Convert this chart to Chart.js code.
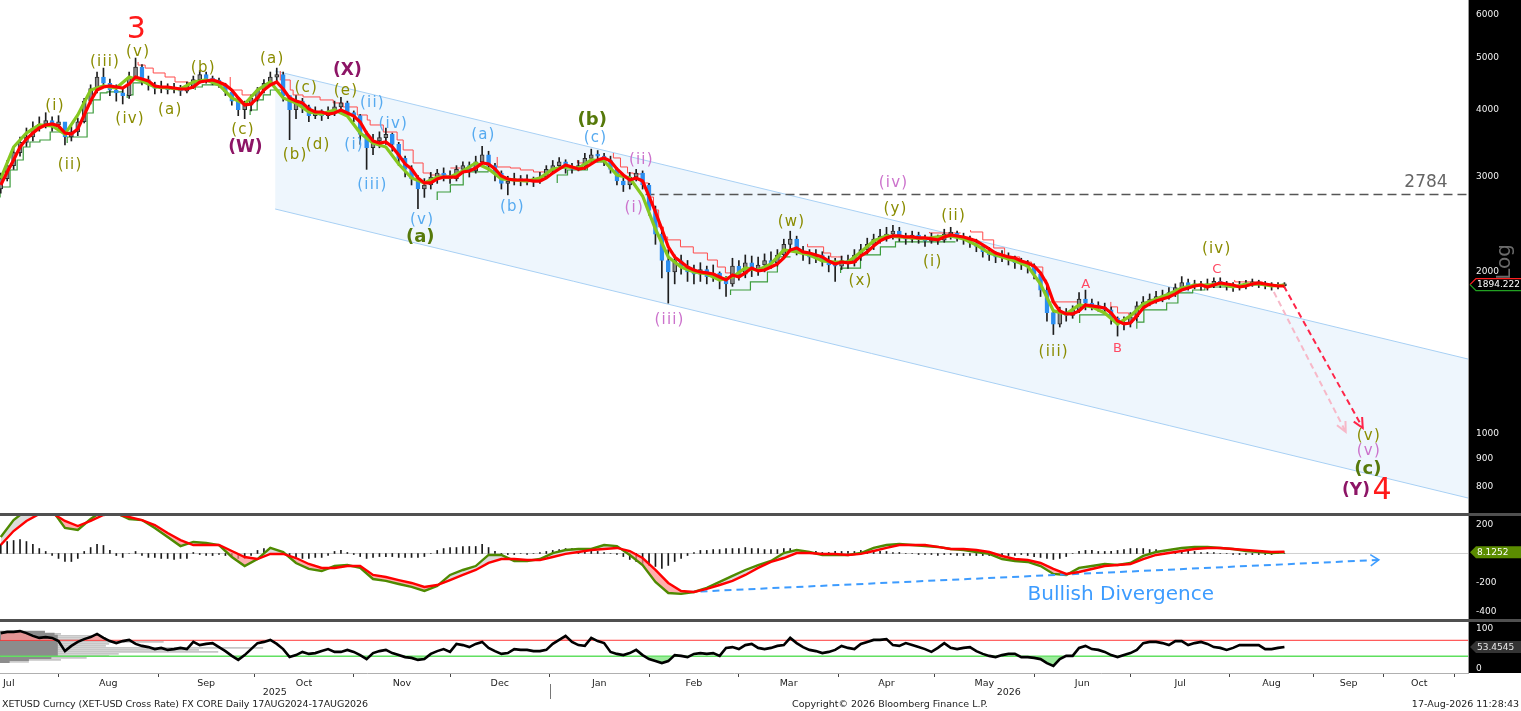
<!DOCTYPE html>
<html>
<head>
<meta charset="utf-8">
<script src="https://cdn.jsdelivr.net/npm/chart.js@4.4.1/dist/chart.umd.min.js"></script>
<style>
html,body{margin:0;padding:0;background:#fff;}
body{width:1521px;height:711px;overflow:hidden;position:relative;font-family:'DejaVu Sans',sans-serif;}
canvas{position:absolute;left:0;display:block;}
.sep{position:absolute;left:0;width:1521px;height:3px;background:#505050;}
.foot{position:absolute;top:698px;font-size:9.5px;line-height:12px;color:#222;white-space:nowrap;}
</style>
</head>
<body>
<canvas id="cMain" width="1521" height="513" style="top:0px"></canvas>
<div class="sep" style="top:513px"></div>
<canvas id="cMacd" width="1521" height="103" style="top:516px"></canvas>
<div class="sep" style="top:619px"></div>
<canvas id="cRsi" width="1521" height="89" style="top:622px"></canvas>
<div class="foot" style="left:2px;letter-spacing:-0.1px">XETUSD Curncy (XET-USD Cross Rate) FX CORE Daily 17AUG2024-17AUG2026</div>
<div class="foot" style="left:792px">Copyright© 2026 Bloomberg Finance L.P.</div>
<div class="foot" style="right:2px">17-Aug-2026 11:28:43</div>
<script>
// ================= DATA =================
// x values are day numbers counted from 1 Jul 2025 (future part after 17 Aug 2026 counts weekdays only)
const firstDay = 13;   // first daily bar shown
const barStep = 2;     // bars / red MA / histogram / RSI every 2 days
const maStep = 4;      // green MA and MACD lines every 4 days
const firstOpen = 2850;

const closes = [
2980,3150,3330,3480,3560,3700,3760,3820,3750,3800,
3560,3640,3800,4150,4380,4600,4480,4350,4300,4250,
4600,4800,4550,4450,4380,4420,4360,4400,4330,4420,
4550,4650,4560,4540,4450,4320,4150,4000,4080,4200,
4350,4480,4600,4650,4250,4000,4150,4050,3900,3980,
3900,3960,4050,4120,3950,3900,3600,3400,3500,3550,
3600,3450,3250,3100,2980,2850,2900,3000,3050,3020,
2980,3100,3150,3080,3200,3300,3150,3050,2920,2950,
2980,2950,2970,2940,3000,3100,3150,3200,3120,3100,
3150,3250,3300,3280,3220,3100,2950,2900,3000,3050,
2900,2600,2350,2100,2000,2100,2050,2000,1980,2020,
1960,1990,1930,1900,2050,1980,2080,2020,2060,2100,
2080,2150,2250,2300,2180,2160,2130,2150,2100,2060,
2050,2100,2080,2150,2200,2250,2300,2330,2350,2380,
2320,2300,2340,2300,2280,2320,2290,2350,2360,2320,
2300,2260,2230,2180,2150,2130,2140,2110,2080,2070,
2040,1980,1850,1680,1600,1680,1660,1700,1780,1750,
1730,1720,1700,1640,1600,1610,1650,1730,1760,1780,
1800,1790,1830,1870,1910,1880,1900,1880,1900,1920,
1900,1880,1870,1890,1900,1910,1900,1890,1880,1885,1894.222];
const highs = [
3050,3220,3400,3560,3700,3800,3880,3950,3880,3900,
3780,3720,3860,4200,4450,4700,4780,4560,4450,4400,
4700,4990,4850,4620,4500,4520,4470,4480,4440,4500,
4620,4730,4700,4620,4580,4480,4350,4200,4150,4260,
4400,4550,4700,4780,4700,4250,4250,4200,4080,4050,
4000,4050,4150,4220,4150,3980,3920,3650,3600,3640,
3700,3620,3480,3280,3150,3020,2980,3060,3100,3120,
3080,3150,3200,3200,3280,3420,3350,3180,3080,3010,
3050,3020,3030,3000,3060,3150,3220,3260,3230,3180,
3220,3320,3380,3360,3320,3280,3120,3000,3060,3100,
3080,2920,2650,2400,2200,2150,2150,2100,2060,2080,
2050,2060,2000,1960,2120,2100,2150,2140,2130,2160,
2180,2200,2300,2380,2330,2230,2200,2200,2180,2140,
2120,2140,2150,2200,2250,2310,2350,2400,2420,2440,
2420,2360,2380,2370,2340,2360,2340,2400,2420,2380,
2360,2330,2300,2250,2220,2180,2190,2170,2140,2120,
2100,2070,2000,1880,1700,1720,1710,1730,1830,1850,
1780,1760,1750,1720,1650,1650,1680,1760,1800,1820,
1840,1850,1870,1900,1960,1940,1930,1920,1940,1950,
1950,1920,1910,1920,1930,1940,1930,1920,1910,1910,1910];
const lows = [
2800,2950,3100,3280,3420,3500,3650,3700,3650,3680,
3440,3500,3580,3780,4100,4300,4400,4250,4150,4100,
4200,4550,4450,4350,4280,4300,4280,4300,4250,4300,
4380,4480,4480,4450,4400,4250,4080,3900,3850,3980,
4150,4300,4450,4500,4150,3520,3850,3950,3800,3850,
3820,3850,3900,3980,3900,3800,3450,3100,3300,3400,
3450,3350,3150,3000,2900,2620,2750,2850,2920,2950,
2920,2950,3050,3000,3050,3150,3080,2950,2850,2780,
2900,2890,2900,2880,2920,2980,3050,3100,3050,3050,
3080,3100,3200,3200,3150,3050,2900,2820,2850,2950,
2850,2550,2250,1950,1750,1900,1980,1920,1900,1920,
1900,1920,1860,1800,1880,1930,1950,1960,1970,2000,
2030,2050,2120,2200,2150,2100,2070,2080,2050,2000,
1920,2020,2030,2050,2100,2160,2200,2260,2280,2300,
2280,2250,2270,2260,2230,2260,2250,2270,2300,2280,
2250,2220,2180,2130,2100,2080,2090,2060,2030,2020,
1990,1940,1800,1620,1530,1580,1620,1640,1680,1700,
1700,1690,1670,1600,1520,1560,1580,1620,1700,1730,
1750,1760,1780,1800,1850,1850,1860,1850,1850,1870,
1870,1850,1840,1850,1860,1880,1870,1860,1850,1860,1870];
const maRed = [
2900,3066,3227,3411,3530,3621,3700,3748,3764,3732,
3621,3605,3684,3911,4153,4352,4409,4428,4409,4390,
4466,4601,4562,4524,4428,4409,4409,4390,4371,4371,
4409,4505,4524,4543,4505,4447,4352,4207,4083,4100,
4207,4352,4447,4505,4371,4207,4153,4118,4013,3962,
3962,3928,3945,3996,3945,3894,3796,3621,3500,3470,
3485,3411,3297,3172,3105,2988,2925,2925,2975,3000,
3000,3000,3066,3079,3118,3186,3172,3105,3013,2975,
2962,2962,2962,2949,2949,2988,3052,3105,3159,3132,
3105,3118,3172,3227,3255,3213,3105,3026,2962,2988,
2949,2766,2584,2402,2226,2132,2086,2042,2016,1999,
1991,1982,1957,1932,1974,1957,1991,2033,2008,2016,
2042,2069,2122,2196,2215,2178,2168,2150,2132,2095,
2069,2086,2078,2086,2141,2178,2235,2283,2313,2332,
2332,2322,2322,2313,2313,2303,2293,2322,2342,2332,
2322,2303,2283,2244,2206,2168,2150,2132,2122,2095,
2078,2051,1991,1899,1759,1693,1671,1671,1693,1736,
1729,1722,1714,1678,1621,1601,1607,1657,1714,1744,
1766,1781,1797,1820,1851,1867,1883,1891,1875,1891,
1908,1899,1891,1875,1883,1899,1908,1899,1891,1883,1883];
const maGreen = [
2980,3411,3621,3748,3732,3605,3911,4352,4428,4390,
4601,4524,4409,4390,4371,4505,4543,4447,4207,4100,
4352,4505,4207,4118,3962,3928,3996,3894,3621,3470,
3411,3172,2988,2925,3000,3000,3079,3186,3105,2975,
2962,2949,2988,3105,3132,3118,3227,3213,3026,2988,
2766,2402,2132,2042,1999,1982,1932,1957,2033,2016,
2069,2196,2178,2150,2095,2086,2086,2178,2283,2332,
2322,2313,2303,2322,2332,2303,2244,2168,2132,2095,
2051,1899,1693,1671,1736,1722,1678,1601,1657,1744,
1781,1820,1867,1891,1891,1899,1875,1899,1899,1883,
1890];
// trailing stop step lines: segments of [day, price]
const upperStop = [
 [[55.8,4906],[58.0,4842],[60.5,4780],[64.2,4681],[67.3,4601],[71.4,4505],[73.6,4486],[75.1,4486]],
 [[84.5,4601],[88.2,4352],[91.3,4261],[92.6,4261]],
 [[100.1,4721],[103.2,4543],[104.1,4352],[107.2,4261],[112.5,4225],[116.6,4171],[119.7,4118],[124.1,4048],[127.2,3911],[128.1,3828],[132.2,3748],[136.5,3637],[138.4,3515],[141.5,3368],[144.6,3186],[146.8,3052],[150.9,3026],[152.1,3026]],
 [[153.1,3118],[156.2,3118]],
 [[167.7,3269],[171.8,3132],[174.9,3118],[179.0,3092],[184.2,3066],[185.8,3066]],
 [[192.7,3227],[195.8,3186],[197.4,3186]],
 [[203.9,3325],[206.1,3255],[208.3,3132],[210.1,3052],[213.2,3039],[214.8,2925],[216.4,2754],[218.0,2606],[219.5,2423],[220.8,2322],[224.8,2293],[228.8,2226],[233.2,2168],[236.3,2104],[238.8,2042],[239.7,1991],[241.0,1991]],
 [[264.4,2254],[269.4,2226],[271.6,2168],[273.7,2132],[275.3,2132]],
 [[302.4,2372],[310.5,2362],[312.1,2362]],
 [[315.2,2392],[319.0,2372],[322.4,2293],[325.8,2215],[330.5,2132],[334.2,2086],[337.7,2042],[338.9,1932],[341.1,1759],[349.2,1759]],
 [[358.9,1759],[361.0,1722],[364.5,1678],[365.7,1664],[367.0,1664]],
 [[397.5,1932],[404.4,1916],[406.2,1916]]
];
const lowerStop = [
 [[12.8,2750],[15.9,2875],[18.1,3092],[20.0,3227],[22.1,3411],[25.2,3485],[28.4,3515],[31.5,3637],[33.0,3637]],
 [[33.7,3470],[39.9,3560],[41.8,3945],[44.0,4171],[46.1,4298],[49.2,4316],[50.8,4316]],
 [[52.4,4207],[54.2,4261],[55.5,4486],[57.0,4486]],
 [[73.6,4352],[75.8,4409],[77.6,4447],[83.2,4447]],
 [[90.7,3911],[92.9,3996],[94.8,4171],[97.0,4261],[99.1,4352],[100.7,4352]],
 [[149.0,2720],[153.1,2814],[157.1,2900],[163.4,3066],[165.0,3066]],
 [[186.4,2925],[189.6,3026],[195.8,3092],[199.8,3199],[201.7,3199]],
 [[240.4,1812],[246.6,1851],[251.9,1916],[255.0,1999],[256.9,2132],[259.1,2132]],
 [[274.7,1991],[280.9,2033],[287.1,2150],[291.8,2226],[297.8,2274],[310.5,2274]],
 [[349.2,1607],[357.6,1664],[358.9,1664]],
 [[367.0,1568],[369.2,1614],[376.3,1700],[379.8,1751],[384.4,1828],[388.2,1851],[401.0,1875],[406.9,1891],[412.8,1891]]
];
const macdSignal = [
58,154,223,271,277,223,188,223,264,271,
250,229,195,140,92,58,58,58,17,-24,
-38,-3,-3,-31,-72,-99,-99,-86,-86,-147,
-161,-182,-202,-229,-216,-182,-147,-113,-65,-38,
-38,-45,-45,-24,-3,10,24,31,38,17,
-31,-113,-202,-257,-264,-243,-216,-188,-147,-99,
-58,-31,3,3,-3,-3,-10,-3,17,38,
58,58,58,45,31,31,24,10,-17,-38,
-45,-65,-106,-140,-127,-106,-86,-79,-72,-38,
-10,3,17,31,38,38,31,24,17,10,
12];
const macdLine = [
113,229,298,332,298,175,161,236,298,277,
236,229,175,113,51,79,72,58,-24,-86,
-38,38,10,-65,-106,-120,-86,-79,-99,-175,
-188,-209,-229,-257,-223,-147,-113,-86,-10,-10,
-51,-51,-38,3,24,31,31,58,51,-10,
-79,-195,-271,-277,-264,-236,-195,-154,-113,-79,
-51,3,24,10,-10,-10,-10,3,38,58,
65,58,51,45,31,24,10,-3,-38,-51,
-58,-86,-140,-147,-99,-86,-72,-79,-65,-17,
10,24,38,45,45,38,31,17,10,3,
8.1252];
const macdHist = [
62,82,89,96,82,62,34,14,-14,-34,
-55,-55,-34,14,41,62,55,21,-14,-27,
0,14,-14,-27,-27,-34,-34,-41,-34,-34,
7,-7,-14,-14,-7,-14,-27,-34,-34,-14,
21,34,41,27,0,-27,-27,-34,-34,-27,
-27,-14,14,21,7,-7,-21,-34,-27,-21,
-21,-21,-27,-27,-27,-27,-21,0,21,34,
41,41,48,48,48,62,41,14,-7,-7,
-7,0,-7,0,7,14,21,27,34,34,
27,27,21,14,7,0,-7,-21,-41,-55,
-68,-82,-89,-103,-82,-55,-34,-14,7,21,
21,27,27,34,34,34,41,34,34,27,
27,27,34,34,27,21,14,14,7,7,
14,14,14,14,21,21,21,14,14,7,
7,0,0,-7,-7,-7,-14,-7,-7,-14,
-14,-14,-14,-14,-14,-14,-14,-14,-14,-7,
-14,-21,-27,-34,-41,-34,-21,0,14,21,
21,14,14,14,21,27,34,34,34,27,
27,21,21,21,14,14,14,7,7,7,
0,0,-7,-7,-7,-7,-7,-7,-7,0,0];
const rsiValues = [
88,91,91,93,88,81,76,78,76,68,
43,56,66,73,78,86,76,68,63,68,
71,61,56,53,48,51,46,48,51,48,
66,58,61,63,53,43,31,21,33,48,
63,66,71,61,48,28,33,41,36,38,
43,48,41,41,46,41,33,23,38,43,
46,38,33,28,26,21,23,36,43,48,
41,61,58,53,61,66,51,43,36,38,
48,46,46,43,43,46,61,71,81,66,
58,56,76,68,63,41,36,33,38,46,
33,23,18,13,18,33,31,28,36,38,
36,38,31,51,53,48,58,61,51,48,
51,56,58,76,63,53,46,43,38,41,
46,56,51,48,61,66,71,71,73,58,
56,63,58,53,48,41,51,63,51,48,
51,53,43,36,31,28,33,36,36,28,
28,26,23,13,6,23,31,31,51,56,
48,46,41,33,28,33,38,46,63,66,
66,63,58,68,68,58,63,66,61,53,
51,46,51,58,58,58,58,48,48,51,53.4545];
// RSI distribution bars at left of the RSI panel (level, length in days)
const rsiProfileLevels = [91,86,81,76,71,66,61,56,51,46,41,36,31,26,21,16];
const rsiProfileLight  = [14,19,31,33,33,51,34,33,82,62,68,37,34,27,19,9];
const rsiProfileDark   = [14,17,18,18,18,18,18,18,18,18,18,18,18,16,9,3];

const priceTicks = [6000,5000,4000,3000,2000,1000,900,800];
const macdTicks = [200,-200,-400];
const rsiTicks = [100,0];
const monthNames = ['Jul','Aug','Sep','Oct','Nov','Dec','Jan','Feb','Mar','Apr','May','Jun','Jul','Aug','Sep','Oct'];
const monthStarts = [0,31,62,92,123,153,184,215,243,274,304,335,365,396,422,444,466];
const yearNames = ['2025','2026'];
const yearBreak = 184;
const lastPrice = 1894.222, lastMacd = 8.1252, lastRsi = 53.4545;

const channelUpper = [[98.5,4721],[470.2,1378]];
const channelLower = [[98.5,2617],[470.2,760.6]];
const level2784 = [[213.9,2784],[470.2,2784]];
const redArrow = [[412.8,1883],[437.4,1026]];
const pinkArrow = [[409.7,1835],[432.1,1009]];
const divergenceArrow = [[227.3,-264],[442.4,-44]];
const divergenceText = ['Bullish Divergence', 362.0, -284];

const waveLabels = [
 ['3',55.2,5626,'num'],
 ['(i)',29.9,4065,'olive'],['(ii)',34.6,3159,'olive'],['(iii)',45.5,4906,'olive'],['(iv)',53.3,3844,'olive'],['(v)',55.8,5120,'olive'],
 ['(a)',65.8,3996,'olive'],['(b)',76.1,4780,'olive'],['(c)',88.5,3668,'olive'],['(W)',89.2,3397,'wxy'],
 ['(a)',97.6,4970,'olive'],['(b)',104.7,3297,'olive'],['(c)',108.2,4390,'olive'],['(d)',111.9,3440,'olive'],['(e)',120.6,4334,'olive'],['(X)',121.0,4721,'wxy'],
 ['(i)',123.1,3440,'blue'],['(ii)',128.8,4118,'blue'],['(iii)',128.8,2900,'blue'],['(iv)',135.3,3764,'blue'],['(v)',144.3,2497,'blue'],
 ['(a)',143.7,2322,'bold'],['(a)',163.4,3590,'blue'],['(b)',172.4,2640,'blue'],['(b)',197.3,3828,'bold'],['(c)',198.3,3545,'blue'],
 ['(i)',210.4,2629,'violet'],['(ii)',212.6,3227,'violet'],['(iii)',221.4,1628,'violet'],
 ['(w)',259.4,2475,'olive'],['(x)',280.9,1924,'olive'],['(iv)',291.2,2925,'violet'],['(y)',291.8,2617,'olive'],
 ['(i)',303.4,2086,'olive'],['(ii)',309.9,2540,'olive'],['(iii)',341.1,1420,'olive'],
 ['A',351.1,1891,'abc'],['B',361.0,1438,'abc'],['C',391.9,2016,'abc'],['(iv)',391.9,2206,'olive'],
 ['(v)',439.3,991,'olive'],['(v)',439.3,930,'violet'],['(c)',439.0,861,'bold'],['(Y)',435.3,784,'wxy'],['4',443.4,784,'num'],
 ['2784',457.1,2925,'level']
];

// ================= STYLE / LAYOUT =================
const X_MIN = 12.76, X_MAX = 470.2;
const FONT = '"DejaVu Sans"';
const labelStyles = {
 num:{font:'30px '+FONT,color:'#ff1a1a'},
 olive:{font:'15px '+FONT,color:'#8a8c00',ls:'1.2px'},
 bold:{font:'bold 18px '+FONT,color:'#56790a'},
 wxy:{font:'bold 17px '+FONT,color:'#8d1566'},
 blue:{font:'15px '+FONT,color:'#56aaf0',ls:'1.2px'},
 violet:{font:'15px '+FONT,color:'#cc72cc',ls:'1.2px'},
 abc:{font:'13px '+FONT,color:'#ff4a64'},
 level:{font:'17px '+FONT,color:'#666666'}
};
Chart.defaults.font.family = 'DejaVu Sans';

const barX = i => firstDay + barStep * i;
const maX = j => firstDay + maStep * j;
const pts = arr => arr.map(([x, y]) => ({x, y}));
const opens = closes.map((c, i) => i === 0 ? firstOpen : closes[i - 1]);
const isDown = closes.map((c, i) => c < opens[i]);

function xAxisHidden() {
  return {type:'linear', min:X_MIN, max:X_MAX, bounds:'data', offset:false, display:false, grid:{offset:false, display:false}};
}
function rightAxis(opts, tickVals, logType) {
  return Object.assign({
    type: logType ? 'logarithmic' : 'linear', position:'right', bounds:'data',
    afterBuildTicks: s => { s.ticks = tickVals.map(v => ({value: v})); },
    afterFit: s => { s.width = 53; s.paddingTop = 0; s.paddingBottom = 0; },
    ticks: {color:'#f2f2f2', font:{family:'DejaVu Sans', size:9}, padding:8, callback: v => String(v)},
    grid: {display:false, drawTicks:false}, border: {display:false}
  }, opts);
}
function panelBg(chart, full) {
  const {ctx, chartArea: a, width, height} = chart;
  const h = full ? height : a.bottom;
  ctx.save();
  ctx.fillStyle = '#000'; ctx.fillRect(a.right, 0, width - a.right, h);
  ctx.fillStyle = '#9a9a9a'; ctx.fillRect(a.right, 0, 1, h);
  ctx.restore();
}
function drawTag(chart, yc, text, fill, textColor, topStroke, botStroke) {
  const {ctx, chartArea: a, width} = chart;
  const x0 = a.right + 2, h = 12;
  ctx.save();
  ctx.beginPath();
  ctx.moveTo(x0, yc); ctx.lineTo(x0 + 6, yc - h / 2); ctx.lineTo(width, yc - h / 2);
  ctx.lineTo(width, yc + h / 2); ctx.lineTo(x0 + 6, yc + h / 2); ctx.closePath();
  ctx.fillStyle = fill; ctx.fill();
  ctx.lineWidth = 1.3;
  if (topStroke) { ctx.beginPath(); ctx.moveTo(x0, yc); ctx.lineTo(x0 + 6, yc - h / 2); ctx.lineTo(width, yc - h / 2); ctx.strokeStyle = topStroke; ctx.stroke(); }
  if (botStroke) { ctx.beginPath(); ctx.moveTo(x0, yc); ctx.lineTo(x0 + 6, yc + h / 2); ctx.lineTo(width, yc + h / 2); ctx.strokeStyle = botStroke; ctx.stroke(); }
  ctx.fillStyle = textColor; ctx.font = '9px ' + FONT; ctx.textAlign = 'left'; ctx.textBaseline = 'middle';
  ctx.fillText(text, x0 + 7, yc + 0.5);
  ctx.restore();
}
function arrowHead(ctx, x0, y0, x1, y1, len, spread, color, width) {
  const ang = Math.atan2(y1 - y0, x1 - x0);
  ctx.save();
  ctx.setLineDash([]);
  ctx.beginPath();
  ctx.moveTo(x1 - len * Math.cos(ang - spread), y1 - len * Math.sin(ang - spread));
  ctx.lineTo(x1, y1);
  ctx.lineTo(x1 - len * Math.cos(ang + spread), y1 - len * Math.sin(ang + spread));
  ctx.strokeStyle = color; ctx.lineWidth = width; ctx.stroke();
  ctx.restore();
}
function datasetEnds(chart, label) {
  const idx = chart.data.datasets.findIndex(d => d.label === label);
  const el = chart.getDatasetMeta(idx).data;
  return [el[0].x, el[0].y, el[el.length - 1].x, el[el.length - 1].y];
}
const common = {
  responsive:false, animation:false, events:[],
  layout:{padding:0},
  plugins:{legend:{display:false}, tooltip:{enabled:false}},
  elements:{point:{radius:0, hoverRadius:0}, line:{tension:0}}
};

// ================= MAIN PRICE CHART =================
const mainDatasets = [
 {type:'line', label:'maRed', data: maRed.map((v, i) => ({x: barX(i), y: v})), borderColor:'#ff0000', borderWidth:3.2, order:0},
 {type:'line', label:'maGreen', data: maGreen.map((v, j) => ({x: maX(j), y: v})), borderColor:'#86c820', borderWidth:3.2, order:1},
 {type:'bar', label:'body', data: closes.map((c, i) => ({x: barX(i), y: [opens[i], c]})),
   backgroundColor: isDown.map(d => d ? '#2b8ef0' : '#8a8a8a'),
   borderColor: isDown.map(d => d ? '#2b8ef0' : '#2a2a2a'),
   borderWidth: 1, borderSkipped: false,
   barThickness:4, grouped:false, minBarLength:2, order:2},
 {type:'bar', label:'wick', data: closes.map((c, i) => ({x: barX(i), y: [lows[i], highs[i]]})), backgroundColor:'#1e1e1e', barThickness:1, grouped:false, order:3},
 ...upperStop.map(seg => ({type:'line', data: pts(seg), borderColor:'#ff4a4a', borderWidth:1, stepped:'after', order:4})),
 ...lowerStop.map(seg => ({type:'line', data: pts(seg), borderColor:'#3c9c3c', borderWidth:1.2, stepped:'after', order:4})),
 {type:'line', label:'redArrow', data: pts(redArrow), borderColor:'#ff2448', borderWidth:2, borderDash:[6,4], order:1},
 {type:'line', label:'pinkArrow', data: pts(pinkArrow), borderColor:'#f7b8c8', borderWidth:2, borderDash:[6,4], order:1},
 {type:'line', label:'level', data: pts(level2784), borderColor:'#555555', borderWidth:1.5, borderDash:[9,5], order:6},
 {type:'line', label:'chanUp', data: pts(channelUpper), borderColor:'#a8d0f4', borderWidth:1, fill:'+1', backgroundColor:'#eef6fd', order:9},
 {type:'line', label:'chanLo', data: pts(channelLower), borderColor:'#a8d0f4', borderWidth:1, order:8}
];
const mainPlugin = {
  id:'mainDeco',
  beforeDraw(chart) { panelBg(chart, true); },
  afterDatasetsDraw(chart) {
    const {ctx, scales:{x, y}} = chart;
    let e = datasetEnds(chart, 'redArrow');  arrowHead(ctx, e[0], e[1], e[2], e[3], 11, 0.45, '#ff2448', 2);
    e = datasetEnds(chart, 'pinkArrow');     arrowHead(ctx, e[0], e[1], e[2], e[3], 11, 0.45, '#f7b8c8', 2);
    ctx.save();
    ctx.textAlign = 'center'; ctx.textBaseline = 'middle';
    waveLabels.forEach(([t, d, p, k]) => {
      const st = labelStyles[k];
      ctx.font = st.font; ctx.fillStyle = st.color;
      try { ctx.letterSpacing = st.ls || '0px'; } catch (err) {}
      ctx.fillText(t, x.getPixelForValue(d), y.getPixelForValue(p));
    });
    ctx.restore();
  },
  afterDraw(chart) {
    const {ctx, scales:{y}} = chart;
    drawTag(chart, y.getPixelForValue(lastPrice), lastPrice.toFixed(3), '#000', '#ffffff', '#ff2020', '#22a022');
    ctx.save();
    ctx.translate(1505, 262); ctx.rotate(-Math.PI / 2);
    ctx.font = '20px ' + FONT; ctx.fillStyle = '#6a6a6a'; ctx.textAlign = 'center'; ctx.textBaseline = 'middle';
    ctx.fillText('Log', 0, 0);
    ctx.restore();
  }
};
new Chart(document.getElementById('cMain'), {
  type:'line',
  data:{datasets: mainDatasets},
  options: Object.assign({}, common, {
    scales:{ x: xAxisHidden(), y: rightAxis({min:713.4, max:6395}, priceTicks, true) }
  }),
  plugins:[mainPlugin]
});

// ================= MACD PANEL =================
const macdPlugin = {
  id:'macdDeco',
  beforeDraw(chart) { panelBg(chart, true); },
  afterDatasetsDraw(chart) {
    const {ctx, scales:{x, y}} = chart;
    const e = datasetEnds(chart, 'div');
    arrowHead(ctx, e[0], e[1], e[2], e[3], 10, 0.6, '#3d9cff', 1.6);
    ctx.save();
    ctx.font = '20px ' + FONT; ctx.fillStyle = '#3d9cff'; ctx.textAlign = 'center'; ctx.textBaseline = 'middle';
    ctx.fillText(divergenceText[0], x.getPixelForValue(divergenceText[1]), y.getPixelForValue(divergenceText[2]));
    ctx.restore();
  },
  afterDraw(chart) {
    drawTag(chart, chart.scales.y.getPixelForValue(lastMacd), lastMacd.toFixed(4), '#5b8c00', '#ffffff');
  }
};
new Chart(document.getElementById('cMacd'), {
  type:'line',
  data:{datasets:[
    {type:'line', label:'zero', data: pts([[X_MIN,0],[X_MAX,0]]), borderColor:'#d0d0d0', borderWidth:1, order:9},
    {type:'bar', label:'hist', data: macdHist.map((v, i) => ({x: barX(i), y: v})), backgroundColor:'#1a1a1a', barThickness:1, order:5},
    {type:'line', label:'macd', data: macdLine.map((v, j) => ({x: maX(j), y: v})), borderColor:'#4e8a00', borderWidth:2.4,
      fill:{target:'+1', above:'#dcdcdc', below:'rgba(255,140,140,0.7)'}, order:1},
    {type:'line', label:'signal', data: macdSignal.map((v, j) => ({x: maX(j), y: v})), borderColor:'#ff0000', borderWidth:2.4, order:0},
    {type:'line', label:'div', data: pts(divergenceArrow), borderColor:'#3d9cff', borderWidth:2, borderDash:[7,5], order:0}
  ]},
  options: Object.assign({}, common, {
    scales:{ x: xAxisHidden(), y: rightAxis({min:-449, max:257}, macdTicks, false) }
  }),
  plugins:[macdPlugin]
});

// ================= RSI PANEL =================
const monthMids = monthNames.map((m, k) => (monthStarts[k] + monthStarts[k + 1]) / 2);
const boundaryTicks = monthStarts.filter(v => v > X_MIN && v < X_MAX);
const rsiPts = rsiValues.map((v, i) => ({x: barX(i), y: v}));
const rsiPlugin = {
  id:'rsiDeco',
  beforeDraw(chart) { panelBg(chart, false); },
  afterDraw(chart) {
    const {ctx, scales:{x, y}, chartArea:a} = chart;
    drawTag(chart, y.getPixelForValue(lastRsi), lastRsi.toFixed(4), '#343434', '#e8e8e8');
    ctx.save();
    ctx.font = '9.5px ' + FONT; ctx.fillStyle = '#222'; ctx.textAlign = 'center'; ctx.textBaseline = 'middle';
    const xb = x.getPixelForValue(yearBreak);
    ctx.fillText(yearNames[0], (x.getPixelForValue(X_MIN) + xb) / 2, a.bottom + 19.5);
    ctx.fillText(yearNames[1], (xb + x.getPixelForValue(X_MAX)) / 2, a.bottom + 19.5);
    ctx.fillStyle = '#777'; ctx.fillRect(Math.round(xb), a.bottom + 11, 1, 15);
    ctx.restore();
  }
};
new Chart(document.getElementById('cRsi'), {
  type:'line',
  data:{datasets:[
    ...rsiProfileLevels.map((lv, k) => ({type:'line', data: [{x: X_MIN, y: lv}, {x: X_MIN + rsiProfileLight[k], y: lv}], borderColor:'#c6c6c6', borderWidth:1.6, order:9})),
    ...rsiProfileLevels.map((lv, k) => ({type:'line', data: [{x: X_MIN, y: lv}, {x: X_MIN + rsiProfileDark[k], y: lv}], borderColor:'#8c8c8c', borderWidth:2.2, order:8})),
    {type:'line', data: pts([[X_MIN,70],[X_MAX,70]]), borderColor:'#ff3030', borderWidth:1, order:5},
    {type:'line', data: pts([[X_MIN,30],[X_MAX,30]]), borderColor:'#5ee05e', borderWidth:1.5, order:5},
    {type:'line', data: rsiPts, borderColor:'rgba(0,0,0,0)', borderWidth:1, fill:{target:{value:70}, above:'rgba(255,150,150,0.75)', below:'rgba(0,0,0,0)'}, order:3},
    {type:'line', data: rsiPts, borderColor:'rgba(0,0,0,0)', borderWidth:1, fill:{target:{value:30}, above:'rgba(0,0,0,0)', below:'rgba(130,230,130,0.8)'}, order:3},
    {type:'line', data: rsiPts, borderColor:'#000000', borderWidth:2.6, order:0}
  ]},
  options: Object.assign({}, common, {
    scales:{
      x:{type:'linear', min:X_MIN, max:X_MAX, bounds:'data', offset:false, position:'bottom',
        afterBuildTicks: s => { s.ticks = boundaryTicks.concat(monthMids).sort((p, q) => p - q).map(v => ({value: v})); },
        afterFit: s => { s.height = 38; s.paddingLeft = 0; s.paddingRight = 0; },
        ticks:{autoSkip:false, maxRotation:0, minRotation:0, padding:1, color:'#222', font:{family:'DejaVu Sans', size:9.5},
          callback: v => { const k = monthMids.indexOf(v); return k >= 0 ? monthNames[k] : ''; }},
        grid:{display:true, offset:false, drawOnChartArea:false, drawTicks:true, tickLength:4, lineWidth:1,
          tickColor: c => (c.tick && boundaryTicks.includes(c.tick.value)) ? '#444' : 'rgba(0,0,0,0)'},
        border:{display:true, color:'#b0b0b0', width:1}
      },
      y: rightAxis({min:-11.75, max:115.75}, rsiTicks, false)
    }
  }),
  plugins:[rsiPlugin]
});
</script>
</body>
</html>
